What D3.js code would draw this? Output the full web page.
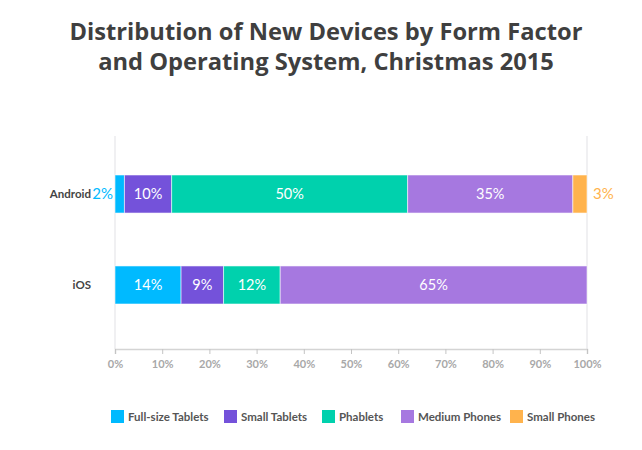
<!DOCTYPE html>
<html>
<head>
<meta charset="utf-8">
<script src="https://cdn.jsdelivr.net/npm/d3@7"></script>
<style>
body { margin: 0; background: #fff; }
svg { font-family: "Lato", "Open Sans", sans-serif; }
</style>
</head>
<body>
<svg id="chart" width="642" height="450"></svg>
<script>
"use strict";

var titleLines = ["Distribution of New Devices by Form Factor", "and Operating System, Christmas 2015"];
var systems = ["Android", "iOS"];
var formFactors = ["Full-size Tablets", "Small Tablets", "Phablets", "Medium Phones", "Small Phones"];
var androidShares = [2, 10, 50, 35, 3];
var iosShares = [14, 9, 12, 65, 0];
var factorColors = ["#00baff", "#7452da", "#00d1ad", "#a678e0", "#ffb34d"];
var xTicks = [0, 10, 20, 30, 40, 50, 60, 70, 80, 90, 100];

var svg = d3.select('#chart');
var margin = {left: 115, right: 55, top: 136, axisY: 349};
var width = 642 - margin.left - margin.right;

// Title
svg.append('g').selectAll('text').data(titleLines).enter().append('text')
	.attr('x', 326).attr('y', function(d, i) { return 40 + i * 30; })
	.attr('text-anchor', 'middle').attr('fill', '#3f3f3f')
	.style('font-family', '"Open Sans", sans-serif')
	.style('font-size', '23.7px').style('font-weight', 'bold')
	.text(function(d) { return d; });

var x = d3.scaleLinear().domain([0, 100]).range([margin.left, margin.left + width]);
var y = d3.scaleBand().domain(systems).range([175, 304]).paddingInner(0.582).paddingOuter(0);

// Light vertical edges
svg.append('g').selectAll('line').data([0, 100]).enter().append('line')
	.attr('x1', function(d) { return x(d); }).attr('x2', function(d) { return x(d); })
	.attr('y1', margin.top).attr('y2', margin.axisY)
	.attr('stroke', '#f0f0f2').attr('stroke-width', 2);

// Axis
var axis = svg.append('g').attr('transform', 'translate(0,' + margin.axisY + ')')
	.call(d3.axisBottom(x).tickValues(xTicks).tickSize(5).tickPadding(6)
		.tickFormat(function(d) { return d + '%'; }));
axis.select('.domain').attr('stroke', '#d4d4d4').attr('stroke-width', 1.5);
axis.selectAll('.tick line').attr('stroke', '#c4c4c4');
axis.selectAll('.tick text').attr('fill', '#a8a8a8')
	.style('font-size', '11px').style('font-weight', 'bold')
	.style('font-family', '"Lato", sans-serif');

// Stacked bars
var rows = [androidShares, iosShares];
rows.forEach(function(shares, r) {
	var sys = systems[r];
	var g = svg.append('g');
	var cum = 0;
	var segs = shares.map(function(v, i) {
		var s = {v: v, i: i, x0: cum, x1: cum + v};
		cum += v;
		return s;
	}).filter(function(s) { return s.v > 0; });

	g.selectAll('rect').data(segs).enter().append('rect')
		.attr('x', function(s) { return x(s.x0); })
		.attr('width', function(s) { return x(s.x1) - x(s.x0); })
		.attr('y', y(sys)).attr('height', y.bandwidth())
		.attr('fill', function(s) { return factorColors[s.i]; })
		.attr('stroke', 'rgba(255,255,255,0.55)').attr('stroke-width', 1);

	var cy = y(sys) + y.bandwidth() / 2;
	g.selectAll('text.val').data(segs).enter().append('text')
		.attr('class', 'val')
		.attr('x', function(s) {
			if (s.v < 5) return s.x0 === 0 ? x(s.x0) - 2 : x(s.x1) + 6;
			return (x(s.x0) + x(s.x1)) / 2;
		})
		.attr('y', cy).attr('dy', '0.36em')
		.attr('text-anchor', function(s) {
			if (s.v < 5) return s.x0 === 0 ? 'end' : 'start';
			return 'middle';
		})
		.attr('fill', function(s) { return s.v < 5 ? factorColors[s.i] : '#ffffff'; })
		.style('font-size', function(s) { return s.v < 5 ? '15px' : '14.5px'; })
		.style('font-weight', 'normal')
		.text(function(s) { return s.v + '%'; });

	g.append('text').attr('x', 91).attr('y', cy).attr('dy', '0.36em')
		.attr('text-anchor', 'end').attr('fill', '#444')
		.style('font-size', '11.5px').style('font-weight', 'bold')
		.text(sys);
});

// Legend
var legendX = [111, 224, 322, 401, 510];
var legend = svg.append('g').selectAll('g').data(formFactors).enter().append('g')
	.attr('transform', function(d, i) { return 'translate(' + legendX[i] + ',410)'; });
legend.append('rect').attr('width', 13).attr('height', 13)
	.attr('fill', function(d, i) { return factorColors[i]; });
legend.append('text').attr('x', 17).attr('y', 6.5).attr('dy', '0.36em')
	.attr('fill', '#555').style('font-size', '11.5px').style('font-weight', 'bold')
	.text(function(d) { return d; });
</script>
</body>
</html>
